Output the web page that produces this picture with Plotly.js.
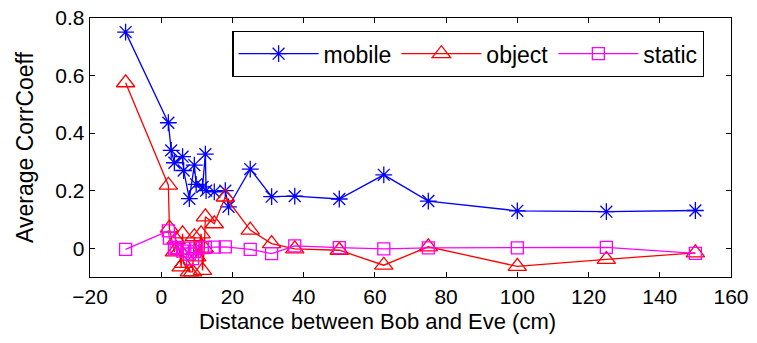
<!DOCTYPE html>
<html>
<head>
<meta charset="utf-8">
<script src="https://cdn.plot.ly/plotly-3.0.1.min.js"></script>
<style>html,body{margin:0;padding:0;background:#fff;}#chart{width:757px;height:343px;}</style>
</head>
<body>
<div id="chart"></div>
<script>
const mobileX = [-10, 2, 2.8, 3.7, 6, 6.3, 7.9, 9.3, 9.8, 11.6, 12.4, 12.6, 14.9, 18, 18.9, 25, 31, 37.5, 50, 62.5, 75, 100, 125, 150];
const mobileY = [0.751, 0.436, 0.34, 0.297, 0.318, 0.27, 0.172, 0.289, 0.222, 0.213, 0.327, 0.2, 0.196, 0.2, 0.144, 0.275, 0.179, 0.181, 0.171, 0.255, 0.164, 0.13, 0.127, 0.131];

const objectX = [-10, 2, 2.3, 3.7, 4.2, 5.1, 5.6, 6, 6.3, 7.9, 8.8, 9.3, 10, 11.2, 11.6, 12.1, 12.4, 14.9, 18, 25, 31, 37.5, 50, 62.5, 75, 100, 125, 150];
const objectY = [0.575, 0.219, 0.07, -0.013, 0.03, -0.007, -0.065, 0.05, -0.053, -0.082, -0.082, 0.04, -0.03, 0.05, -0.077, 0.0, 0.109, 0.085, 0.178, 0.063, 0.016, -0.002, -0.007, -0.059, 0.005, -0.063, -0.039, -0.016];

const staticX = [-10, 2, 2.3, 3.7, 4.2, 6, 6.3, 7.9, 8.8, 9.3, 10, 11.6, 12.4, 14.9, 18, 25, 31, 37.5, 50, 62.5, 75, 100, 125, 150];
const staticY = [-0.004, 0.06, 0.035, -0.002, 0.003, -0.01, 0.0, -0.02, -0.036, -0.012, 0.0, 0.002, 0.003, 0.004, 0.005, -0.004, -0.019, 0.008, 0.002, -0.002, 0.001, 0.001, 0.003, -0.018];

const seriesNames = ['mobile', 'object', 'static'];
const xTicks = [-20, 0, 20, 40, 60, 80, 100, 120, 140, 160];
const yTicks = [0, 0.2, 0.4, 0.6, 0.8];
const xTitle = 'Distance between Bob and Eve (cm)';
const yTitle = 'Average CorrCoeff';

const FONT = 'Liberation Sans, Arial, Helvetica, sans-serif';

const traces = [
  {x: mobileX, y: mobileY, name: seriesNames[0], mode: 'lines+markers', type: 'scatter',
   line: {color: '#0000ff', width: 1.3},
   marker: {symbol: 'asterisk-open', size: 14, color: '#0000ff', line: {color: '#0000ff', width: 1.3}}},
  {x: objectX, y: objectY, name: seriesNames[1], mode: 'lines+markers', type: 'scatter',
   line: {color: '#ff0000', width: 1.3},
   marker: {symbol: 'triangle-up-open', size: 16, color: '#ff0000', line: {color: '#ff0000', width: 1.3}}},
  {x: staticX, y: staticY, name: seriesNames[2], mode: 'lines+markers', type: 'scatter',
   line: {color: '#ff00ff', width: 1.3},
   marker: {symbol: 'square-open', size: 12, color: '#ff00ff', line: {color: '#ff00ff', width: 1.3}}}
];

const layout = {
  width: 757, height: 343,
  margin: {l: 90, r: 26, t: 18, b: 66},
  paper_bgcolor: '#fff', plot_bgcolor: '#fff',
  font: {family: FONT, size: 22, color: '#000'},
  showlegend: true,
  legend: {
    orientation: 'h', x: 0.222, y: 0.95, xanchor: 'left', yanchor: 'top',
    bordercolor: '#000', borderwidth: 1.3, bgcolor: '#fff',
    font: {family: FONT, size: 23, color: '#000'},
    itemwidth: 80
  },
  annotations: [{
    text: xTitle, xref: 'paper', yref: 'paper', x: 0.449, y: -0.172,
    xanchor: 'center', yanchor: 'middle', showarrow: false,
    font: {family: FONT, size: 22, color: '#000'}
  }],
  xaxis: {
    range: [-20, 160], tickvals: xTicks, ticktext: xTicks.map(v => v < 0 ? '\u2212' + Math.abs(v) : String(v)),
    ticks: 'inside', ticklen: 5, tickcolor: '#000',
    showline: true, linecolor: '#000', linewidth: 1.3, mirror: 'ticks',
    showgrid: false, zeroline: false,
    tickfont: {family: FONT, size: 21, color: '#000'},
    automargin: false
  },
  yaxis: {
    range: [-0.1, 0.8], tickvals: yTicks, ticktext: yTicks.map(v => String(v)),
    ticks: 'inside', ticklen: 5, tickcolor: '#000',
    showline: true, linecolor: '#000', linewidth: 1.3, mirror: 'ticks',
    showgrid: false, zeroline: false,
    tickfont: {family: FONT, size: 21, color: '#000'},
    title: {text: yTitle, font: {family: FONT, size: 23, color: '#000'}, standoff: 15},
    automargin: false
  }
};

Plotly.newPlot('chart', traces, layout, {displayModeBar: false, staticPlot: true});
</script>
</body>
</html>
